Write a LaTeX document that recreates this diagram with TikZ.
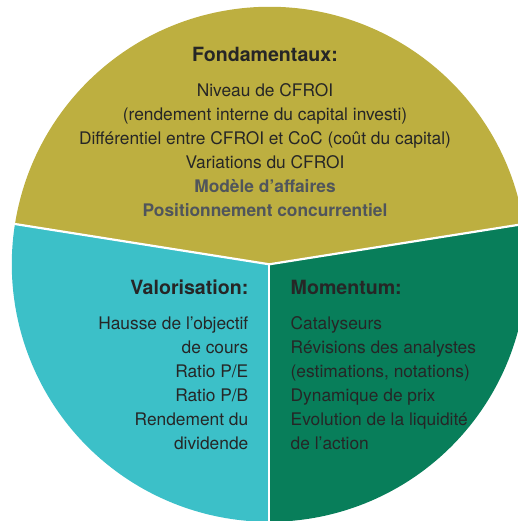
\documentclass[tikz,border=0pt]{standalone}
\usepackage{fontspec}
\setmainfont{TeX Gyre Heros}
\usetikzlibrary{calc}
\definecolor{secolive}{HTML}{BDAF40}
\definecolor{seccyan}{HTML}{3CC0C8}
\definecolor{secgreen}{HTML}{087E5A}
\definecolor{txtdark}{HTML}{262626}
\definecolor{txtgray}{HTML}{50555B}
\tikzset{
  sepline/.style={white, line width=2.2bp},
  titletext/.style={inner sep=0pt, anchor=base, text=txtdark, font=\fontsize{19.6bp}{24bp}\selectfont\bfseries},
  bodytext/.style={inner sep=0pt, anchor=base, text=txtdark, font=\fontsize{17.35bp}{24bp}\selectfont},
}
\begin{document}
\begin{tikzpicture}[x=1bp,y=1bp]
\useasboundingbox (0,0) rectangle (518,521);
\coordinate (c) at (269.3,256.7);
\coordinate (eR) at ($(c)+(9:262bp)$);
\coordinate (eL) at ($(c)+(171:262bp)$);
\coordinate (eB) at ($(c)+(270:262bp)$);
\begin{scope}
\clip (0,0) rectangle (518,521);
\fill[secolive] (c) -- ++(9:257.5bp) arc[start angle=9, end angle=171, radius=257.5bp] -- cycle;
\fill[seccyan] (c) -- ++(171:257.5bp) arc[start angle=171, end angle=270, radius=257.5bp] -- cycle;
\fill[secgreen] (c) -- ++(270:257.5bp) arc[start angle=270, end angle=369, radius=257.5bp] -- cycle;
\draw[sepline] (c) -- (eR);
\draw[sepline] (c) -- (eL);
\draw[sepline] (c) -- (eB);
\end{scope}
% top block
\node[titletext, anchor=base] (tF) at (265,459.3) {Fondamentaux:};
\node[bodytext] (bF) at (265,424) {\begin{tabular}[t]{@{}c@{}}
Niveau de CFROI\\
(rendement interne du capital investi)\\
Différentiel entre CFROI et CoC (coût du capital)\\
Variations du CFROI\\
\textcolor{txtgray}{\bfseries Modèle d’affaires}\\
\textcolor{txtgray}{\bfseries Positionnement concurrentiel}
\end{tabular}};
% left block
\node[titletext, anchor=base east] (tV) at (248.5,226) {Valorisation:};
\node[bodytext, anchor=base east] (bV) at (248.5,191) {\begin{tabular}[t]{@{}r@{}}
Hausse de l’objectif\\
de cours\\
Ratio P/E\\
Ratio P/B\\
Rendement du\\
dividende
\end{tabular}};
% right block
\node[titletext, anchor=base west] (tM) at (290.5,226) {Momentum:};
\node[bodytext, anchor=base west] (bM) at (290.5,191) {\begin{tabular}[t]{@{}l@{}}
Catalyseurs\\
Révisions des analystes\\
(estimations, notations)\\
Dynamique de prix\\
Evolution de la liquidité\\
de l’action
\end{tabular}};
\end{tikzpicture}
\end{document}
